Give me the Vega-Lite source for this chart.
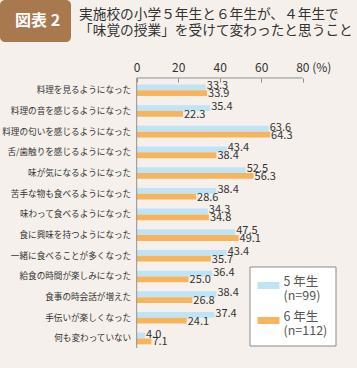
{
  "$schema": "https://vega.github.io/schema/vega-lite/v6.json",
  "width": 337,
  "height": 306,
  "autosize": {"type": "none"},
  "padding": {"left": 10, "top": 51, "right": 10, "bottom": 11},
  "background": "#f5f0eb",
  "config": {
    "font": "Noto Sans CJK JP",
    "view": {"fill": "white", "stroke": null}
  },
  "title": {
    "text": ["実施校の小学５年生と６年生が、４年生で", "「味覚の授業」を受けて変わったと思うこと"],
    "anchor": "start",
    "frame": "group",
    "orient": "top",
    "offset": 13,
    "dx": 69,
    "dy": 51,
    "fontSize": 13.7,
    "fontWeight": "normal",
    "color": "#333333",
    "lineHeight": 16.5,
    "font": "Noto Sans CJK JP"
  },
  "datasets": {
    "rows": [
      {"c": "料理を見るようになった", "g": "5年生", "v": 33.3},
      {"c": "料理を見るようになった", "g": "6年生", "v": 33.9},
      {"c": "料理の音を感じるようになった", "g": "5年生", "v": 35.4},
      {"c": "料理の音を感じるようになった", "g": "6年生", "v": 22.3},
      {"c": "料理の匂いを感じるようになった", "g": "5年生", "v": 63.6},
      {"c": "料理の匂いを感じるようになった", "g": "6年生", "v": 64.3},
      {"c": "舌/歯触りを感じるようになった", "g": "5年生", "v": 43.4},
      {"c": "舌/歯触りを感じるようになった", "g": "6年生", "v": 38.4},
      {"c": "味が気になるようになった", "g": "5年生", "v": 52.5},
      {"c": "味が気になるようになった", "g": "6年生", "v": 56.3},
      {"c": "苦手な物も食べるようになった", "g": "5年生", "v": 38.4},
      {"c": "苦手な物も食べるようになった", "g": "6年生", "v": 28.6},
      {"c": "味わって食べるようになった", "g": "5年生", "v": 34.3},
      {"c": "味わって食べるようになった", "g": "6年生", "v": 34.8},
      {"c": "食に興味を持つようになった", "g": "5年生", "v": 47.5},
      {"c": "食に興味を持つようになった", "g": "6年生", "v": 49.1},
      {"c": "一緒に食べることが多くなった", "g": "5年生", "v": 43.4},
      {"c": "一緒に食べることが多くなった", "g": "6年生", "v": 35.7},
      {"c": "給食の時間が楽しみになった", "g": "5年生", "v": 36.4},
      {"c": "給食の時間が楽しみになった", "g": "6年生", "v": 25.0},
      {"c": "食事の時会話が増えた", "g": "5年生", "v": 38.4},
      {"c": "食事の時会話が増えた", "g": "6年生", "v": 26.8},
      {"c": "手伝いが楽しくなった", "g": "5年生", "v": 37.4},
      {"c": "手伝いが楽しくなった", "g": "6年生", "v": 24.1},
      {"c": "何も変わっていない", "g": "5年生", "v": 4.0},
      {"c": "何も変わっていない", "g": "6年生", "v": 7.1}
    ],
    "badge": [{"b": "図表 2"}]
  },
  "layer": [
    {
      "data": {"name": "rows"},
      "mark": {"type": "bar"},
      "encoding": {
        "y": {
          "field": "c",
          "type": "nominal",
          "sort": null,
          "scale": {
            "domain": ["料理を見るようになった", "料理の音を感じるようになった", "料理の匂いを感じるようになった", "舌/歯触りを感じるようになった", "味が気になるようになった", "苦手な物も食べるようになった", "味わって食べるようになった", "食に興味を持つようになった", "一緒に食べることが多くなった", "給食の時間が楽しみになった", "食事の時会話が増えた", "手伝いが楽しくなった", "何も変わっていない"],
            "paddingInner": 0,
            "paddingOuter": 0.897,
            "align": 0.78
          },
          "axis": {
            "orient": "left",
            "offset": -126.7,
            "domain": false,
            "ticks": false,
            "labelPadding": 6,
            "labelFontSize": 8.6,
            "labelColor": "#333333",
            "labelLimit": 200,
            "title": null
          }
        },
        "yOffset": {
          "field": "g",
          "type": "nominal",
          "scale": {"domain": ["5年生", "6年生"], "paddingInner": 0, "paddingOuter": 0.78}
        },
        "x": {
          "field": "v",
          "type": "quantitative",
          "scale": {"domain": [-61.06, 101.35], "nice": false, "zero": false},
          "axis": {
            "orient": "top",
            "offset": -27,
            "values": [0, 20, 40, 60, 80],
            "domain": false,
            "grid": false,
            "ticks": true,
            "tickSize": -4,
            "tickColor": "#8f8f8f",
            "labelPadding": 8,
            "labelFontSize": 12,
            "labelColor": "#333333",
            "labelExpr": "datum.value == 80 ? '80 (%)' : datum.label",
            "labelAlign": {"condition": {"test": "datum.value == 80", "value": "left"}, "value": "center"},
            "labelOffset": {"condition": {"test": "datum.value == 80", "value": -7}, "value": 0},
            "title": null
          }
        },
        "color": {
          "field": "g",
          "type": "nominal",
          "scale": {"domain": ["5年生", "6年生"], "range": ["#bfe4f6", "#f8b45c"]},
          "legend": {
            "orient": "none",
            "legendX": 239.5,
            "legendY": 215.5,
            "title": null,
            "fillColor": "white",
            "strokeColor": "#8a8a8a",
            "padding": 8,
            "symbolType": "M-1,-0.32H1V0.32H-1Z",
            "symbolSize": 484,
            "symbolStrokeWidth": 0,
            "labelExpr": "datum.label == '5年生' ? ['5 年生', '(n=99)'] : ['6 年生', '(n=112)']",
            "labelFontSize": 12.5,
            "labelColor": "#555555",
            "labelOffset": 4,
            "labelBaseline": "alphabetic",
            "labelLineHeight": 16,
            "rowPadding": 7
          }
        }
      }
    },
    {
      "data": {"name": "rows"},
      "transform": [{"filter": "datum.g == '5年生'"}],
      "mark": {"type": "text", "align": "left", "dx": 1, "dy": -1, "fontSize": 11, "color": "#333333"},
      "encoding": {
        "y": {"field": "c", "type": "nominal", "sort": null},
        "yOffset": {"field": "g", "type": "nominal"},
        "x": {"field": "v", "type": "quantitative"},
        "text": {"field": "v", "type": "quantitative", "format": ".1f"}
      }
    },
    {
      "data": {"name": "rows"},
      "transform": [{"filter": "datum.g == '6年生'"}],
      "mark": {"type": "text", "align": "left", "dx": 1, "dy": 1, "fontSize": 11, "color": "#333333"},
      "encoding": {
        "y": {"field": "c", "type": "nominal", "sort": null},
        "yOffset": {"field": "g", "type": "nominal"},
        "x": {"field": "v", "type": "quantitative"},
        "text": {"field": "v", "type": "quantitative", "format": ".1f"}
      }
    },
    {
      "data": {"values": [{}]},
      "mark": {"type": "rule", "color": "#8f8f8f", "strokeWidth": 1},
      "encoding": {
        "x": {"datum": 0, "type": "quantitative"},
        "x2": {"datum": 80},
        "y": {"datum": "料理を見るようになった", "type": "nominal", "bandPosition": -0.095}
      }
    },
    {
      "data": {"values": [{}]},
      "mark": {"type": "rule", "color": "#8f8f8f", "strokeWidth": 1},
      "encoding": {
        "x": {"datum": 0, "type": "quantitative"},
        "y": {"datum": "料理を見るようになった", "type": "nominal", "bandPosition": -0.095},
        "y2": {"datum": "何も変わっていない", "bandPosition": 0.96}
      }
    },
    {
      "data": {"name": "badge"},
      "mark": {"type": "point", "opacity": 0},
      "encoding": {
        "shape": {
          "field": "b",
          "type": "nominal",
          "legend": {
            "orient": "none",
            "legendX": -10,
            "legendY": -51,
            "title": null,
            "fillColor": "#a8794f",
            "cornerRadius": 5,
            "padding": 10,
            "symbolSize": 0,
            "symbolOpacity": 0,
            "symbolStrokeWidth": 0,
            "labelOffset": -11,
            "labelColor": "white",
            "labelFontSize": 16,
            "labelFontWeight": "bold",
            "clipHeight": 22
          }
        }
      }
    }
  ]
}
